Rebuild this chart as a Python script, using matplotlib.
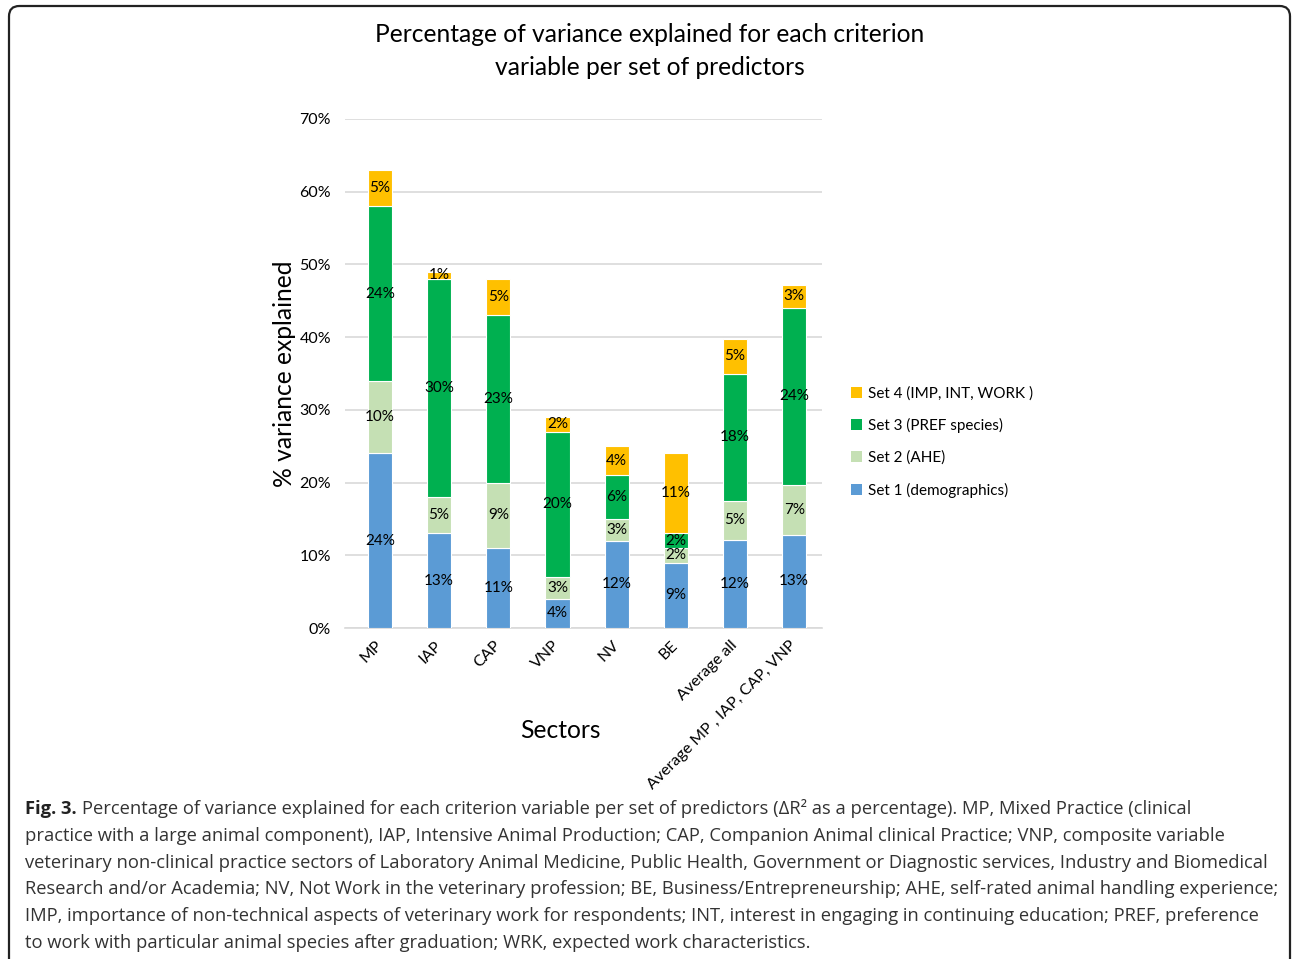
import numpy as np
import matplotlib.pyplot as plt
from matplotlib.patches import FancyBboxPatch, Patch

# Sectors (x categories)
sectors = ["MP", "IAP", "CAP", "VNP", "NV", "BE", "Average all",
           "Average MP , IAP, CAP, VNP"]

# Variance explained per set of predictors (percent)
set1 = [24, 13, 11, 4, 12, 9, 12.1, 12.8]
set2 = [10, 5, 9, 3, 3, 2, 5.4, 6.9]
set3 = [24, 30, 23, 20, 6, 2, 17.5, 24.3]
set4 = [5, 1, 5, 2, 4, 11, 4.7, 3.2]

series_names = ["Set 1 (demographics)", "Set 2 (AHE)", "Set 3 (PREF species)",
                "Set 4 (IMP, INT, WORK )"]
colors = ["#5B9BD5", "#C5E0B4", "#00B050", "#FFC000"]

caption_lines = [
    "practice with a large animal component), IAP, Intensive Animal Production; CAP, Companion Animal clinical Practice; VNP, composite variable",
    "veterinary non-clinical practice sectors of Laboratory Animal Medicine, Public Health, Government or Diagnostic services, Industry and Biomedical",
    "Research and/or Academia; NV, Not Work in the veterinary profession; BE, Business/Entrepreneurship; AHE, self-rated animal handling experience;",
    "IMP, importance of non-technical aspects of veterinary work for respondents; INT, interest in engaging in continuing education; PREF, preference",
    "to work with particular animal species after graduation; WRK, expected work characteristics.",
]
caption_first = ("Percentage of variance explained for each criterion variable per set of predictors "
                 "(\u0394R\u00b2 as a percentage). MP, Mixed Practice (clinical")

W, H = 1292, 959
fig = plt.figure(figsize=(W / 100, H / 100), dpi=100)
chart_font = "Lato"
cap_font = "Open Sans"
cap_size = 13.25

# rounded frame around the figure
frame = FancyBboxPatch((9 / W, -0.05), (W - 2) / W - 9 / W, 1 - 6 / H + 0.05,
                       boxstyle="round,pad=0,rounding_size=0.008",
                       transform=fig.transFigure, fill=False,
                       edgecolor="#222222", linewidth=1.6, mutation_aspect=W / H)
fig.add_artist(frame)

ax = fig.add_axes([345 / W, 1 - 628 / H, (822 - 345) / W, (628 - 119) / H])

x = np.arange(len(sectors))
data = [np.array(s) / 100 for s in (set1, set2, set3, set4)]
bottom = np.zeros(len(sectors))
for vals, name, col in zip(data, series_names, colors):
    ax.bar(x, vals, width=0.41, bottom=bottom, color=col, edgecolor="white",
           linewidth=0.8, label=name, zorder=3)
    for xi, b, v in zip(x, bottom, vals):
        ax.text(xi, b + v / 2, f"{v * 100:.0f}%", ha="center", va="center",
                fontsize=11, family=chart_font, zorder=4)
    bottom = bottom + vals

ax.set_xlim(-0.59, 7.47)
ax.set_ylim(0, 0.7)
ax.set_yticks(np.arange(0, 0.71, 0.1))
ax.set_yticklabels([f"{int(round(t * 100))}%" for t in np.arange(0, 0.71, 0.1)],
                   family=chart_font, fontsize=11.5)
ax.yaxis.grid(True, color="#D9D9D9", linewidth=1.2, zorder=0)
ax.set_axisbelow(True)
for sp in ["top", "right", "left"]:
    ax.spines[sp].set_visible(False)
ax.spines["bottom"].set_color("#D9D9D9")
ax.spines["bottom"].set_linewidth(1.2)
ax.tick_params(axis="both", length=0)
ax.tick_params(axis="y", pad=10)
ax.set_xticks(x)
ax.set_xticklabels(sectors, rotation=45, ha="right", va="center",
                   rotation_mode="anchor", family=chart_font, fontsize=11.5)
ax.tick_params(axis="x", pad=11)

fig.text(285 / W, 1 - 374 / H, "% variance explained", rotation=90, ha="center",
         va="center", fontsize=17.7, family=chart_font)
fig.text(560 / W, 1 - 731 / H, "Sectors", ha="center", va="center",
         fontsize=17.7, family=chart_font)
fig.text(650 / W, 1 - 51 / H,
         "Percentage of variance explained for each criterion\nvariable per set of predictors",
         ha="center", va="center", fontsize=17.7, family=chart_font, linespacing=1.5)

handles = [Patch(facecolor=c, label=n) for c, n in zip(colors, series_names)][::-1]
fig.legend(handles=handles, loc="center left", bbox_to_anchor=(837 / W, 1 - 442 / H),
           frameon=False, prop={"family": chart_font, "size": 11},
           handlelength=0.75, handleheight=0.75, handletextpad=0.4,
           labelspacing=1.15)

# caption
y0 = 809
bold = fig.text(25 / W, 1 - y0 / H, "Fig. 3.", ha="left", va="center",
                fontsize=cap_size, family=cap_font, fontweight="bold", color="#222222")
fig.canvas.draw()
bb = bold.get_window_extent(renderer=fig.canvas.get_renderer())
fig.text((bb.x1 + 5) / W, 1 - y0 / H, caption_first, ha="left", va="center",
         fontsize=cap_size, family=cap_font, color="#333333")
for i, line in enumerate(caption_lines):
    fig.text(25 / W, 1 - (y0 + 26.8 * (i + 1)) / H, line, ha="left", va="center",
             fontsize=cap_size, family=cap_font, color="#333333")

fig.savefig("out.png", dpi=100)
